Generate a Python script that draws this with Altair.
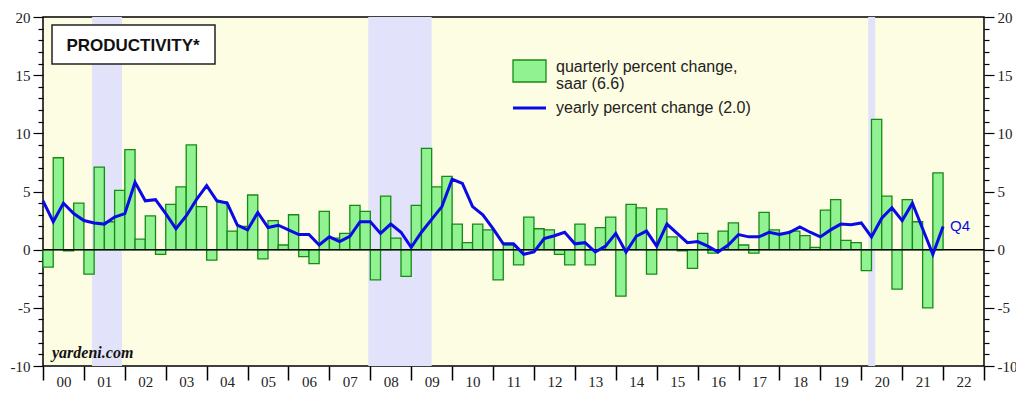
import altair as alt
import pandas as pd

# Quarterly percent change, saar (2000Q1 .. 2021Q4)
qtr_pct = [
    -1.5, 7.9, -0.1, 4.0,   # 2000
    -2.1, 7.1, 2.4, 5.1,    # 2001
    8.6, 0.9, 2.9, -0.4,    # 2002
    3.9, 5.4, 9.0, 3.7,     # 2003
    -0.9, 4.1, 1.6, 2.0,    # 2004
    4.7, -0.8, 2.5, 0.4,    # 2005
    3.0, -0.6, -1.2, 3.3,   # 2006
    1.0, 1.4, 3.8, 3.3,     # 2007
    -2.6, 4.6, 1.0, -2.3,   # 2008
    3.8, 8.7, 5.4, 6.3,     # 2009
    2.2, 0.6, 2.2, 1.7,     # 2010
    -2.6, 0.4, -1.3, 2.8,   # 2011
    1.8, 1.7, -0.4, -1.3,   # 2012
    2.2, -1.3, 1.9, 2.8,    # 2013
    -4.0, 3.9, 3.6, -2.1,   # 2014
    3.5, 1.1, -0.1, -1.6,   # 2015
    1.4, -0.3, 1.6, 2.3,    # 2016
    0.4, -0.3, 3.2, 1.7,    # 2017
    1.4, 1.6, 1.2, 0.2,     # 2018
    3.4, 4.3, 0.8, 0.6,     # 2019
    -1.8, 11.2, 4.6, -3.4,  # 2020
    4.3, 2.4, -5.0, 6.6,    # 2021
]

# Yearly percent change, plotted at quarter ends (1999Q4 .. 2021Q4)
yoy_pct = [
    4.2,
    2.4, 4.0, 3.1, 2.5,     # 2000
    2.3, 2.2, 2.8, 3.1,     # 2001
    5.8, 4.2, 4.3, 3.1,     # 2002
    1.8, 2.9, 4.3, 5.5,     # 2003
    4.2, 4.0, 2.1, 1.7,     # 2004
    3.2, 1.9, 2.1, 1.7,     # 2005
    1.3, 1.3, 0.4, 1.1,     # 2006
    0.7, 1.15, 2.4, 2.4,    # 2007
    1.4, 2.2, 1.5, 0.2,     # 2008
    1.5, 2.6, 3.7, 6.05,    # 2009
    5.7, 3.7, 3.0, 1.8,     # 2010
    0.5, 0.5, -0.4, -0.2,   # 2011
    0.95, 1.2, 1.5, 0.5,    # 2012
    0.6, -0.2, 0.3, 1.4,    # 2013
    -0.2, 1.15, 1.6, 0.3,   # 2014
    2.2, 1.4, 0.6, 0.7,     # 2015
    0.3, -0.2, 0.4, 1.3,    # 2016
    1.1, 1.1, 1.5, 1.3,     # 2017
    1.5, 1.95, 1.5, 1.1,    # 2018
    1.7, 2.2, 2.15, 2.3,    # 2019
    1.1, 2.7, 3.6, 2.5,     # 2020
    4.0, 1.8, -0.4, 2.0,    # 2021
]

recession_start = [2001.2, 2007.95, 2020.17]
recession_end = [2001.93, 2009.5, 2020.34]

year_labels = ["00", "01", "02", "03", "04", "05", "06", "07", "08", "09", "10",
               "11", "12", "13", "14", "15", "16", "17", "18", "19", "20", "21", "22"]
y_ticks = list(range(-10, 21))

title_text = "PRODUCTIVITY*"
legend_bar_lines = ["quarterly percent change,", "saar (6.6)"]
legend_line_text = "yearly percent change (2.0)"
last_label = "Q4"
source_text = "yardeni.com"

# ---- tables built from the arrays ----
df_q = pd.DataFrame({
    "x0": [2000 + i * 0.25 for i in range(len(qtr_pct))],
    "x1": [2000 + (i + 1) * 0.25 for i in range(len(qtr_pct))],
    "pct": qtr_pct,
})
df_y = pd.DataFrame({
    "x": [2000 + k * 0.25 for k in range(len(yoy_pct))],
    "yoy": yoy_pct,
})
df_last = df_y.tail(1).assign(label=last_label)
df_rec = pd.DataFrame({"start": recession_start, "end": recession_end})
one = pd.DataFrame({"a": [0]})

W, H = 941, 349
BG = "#FDFDE3"
BAND = "#E2E2FA"
BAR_FILL = "#90F290"
BAR_STROKE = "#168A16"
BLUE = "#0A0AE6"

xscale = alt.Scale(domain=[2000, 2023], nice=False, zero=False)
yscale = alt.Scale(domain=[-10, 20], nice=False, zero=False)

label_arr = "[" + ",".join("'" + s + "'" for s in year_labels) + "]"
x_axis = alt.Axis(
    values=[2000 + h * 0.5 for h in range(47)],
    title=None, domain=False, grid=False,
    labelExpr="datum.value % 1 === 0 ? '' : " + label_arr + "[floor(datum.value) - 2000]",
    labelFont="Liberation Serif", labelFontSize=15, labelColor="#222",
    labelPadding=-6, labelFlush=False, labelOverlap=False, labelAngle=0,
    tickColor="black", tickWidth=1.5, tickSize=14,
    tickOpacity={"condition": {"test": "datum.value % 1 === 0", "value": 1}, "value": 0},
)


def y_axis(orient):
    return alt.Axis(
        orient=orient, values=y_ticks, title=None, domain=False, grid=False,
        labelExpr="datum.value % 5 === 0 ? toString(datum.value) : ''",
        labelFont="Liberation Serif", labelFontSize=15, labelColor="#222",
        labelPadding=3, labelFlush=False, labelOverlap=False,
        tickColor="black", tickWidth=1.2,
        tickSize={"condition": {"test": "datum.value % 5 === 0", "value": 10}, "value": 5},
    )


recession = alt.Chart(df_rec).mark_rect(color=BAND).encode(
    x=alt.X("start:Q", scale=xscale, axis=x_axis),
    x2="end:Q",
)

bars = alt.Chart(df_q).mark_rect(fill=BAR_FILL, stroke=BAR_STROKE, strokeWidth=1.3).encode(
    x=alt.X("x0:Q", scale=xscale, axis=x_axis),
    x2="x1:Q",
    y=alt.Y("pct:Q", scale=yscale, axis=y_axis("left")),
    y2=alt.datum(0),
)

zero = alt.Chart(one).mark_rule(color="black", strokeWidth=1.5).encode(
    y=alt.YDatum(0, scale=yscale, axis=y_axis("right")),
)

line = alt.Chart(df_y).mark_line(color=BLUE, strokeWidth=3).encode(
    x=alt.X("x:Q", scale=xscale, axis=x_axis),
    y=alt.Y("yoy:Q", scale=yscale, axis=None),
)

q4 = alt.Chart(df_last).mark_text(
    align="left", baseline="middle", dx=7, color=BLUE, fontSize=15, font="Liberation Sans"
).encode(
    x=alt.X("x:Q", scale=xscale, axis=x_axis),
    y=alt.Y("yoy:Q", scale=yscale, axis=None),
    text="label:N",
)

title_box = alt.Chart(one).mark_rect(fill="white", stroke="#222", strokeWidth=1.5).encode(
    x=alt.value(9), x2=alt.value(172), y=alt.value(8), y2=alt.value(47),
)
title = alt.Chart(one).mark_text(
    fontSize=17, fontWeight="bold", font="Liberation Sans", color="#111",
    align="center", baseline="middle",
).encode(x=alt.value(90), y=alt.value(29), text=alt.value(title_text))

leg_swatch = alt.Chart(one).mark_rect(fill=BAR_FILL, stroke=BAR_STROKE, strokeWidth=1.3).encode(
    x=alt.value(470), x2=alt.value(503), y=alt.value(43), y2=alt.value(65),
)
leg_text1 = alt.Chart(one).mark_text(
    fontSize=16, font="Liberation Sans", color="#222", align="left", baseline="middle",
).encode(x=alt.value(513), y=alt.value(50), text=alt.value(legend_bar_lines[0]))
leg_text2 = alt.Chart(one).mark_text(
    fontSize=16, font="Liberation Sans", color="#222", align="left", baseline="middle",
).encode(x=alt.value(513), y=alt.value(67), text=alt.value(legend_bar_lines[1]))
leg_line = alt.Chart(one).mark_rule(color=BLUE, strokeWidth=3).encode(
    x=alt.value(470), x2=alt.value(503), y=alt.value(91),
)
leg_text3 = alt.Chart(one).mark_text(
    fontSize=16, font="Liberation Sans", color="#222", align="left", baseline="middle",
).encode(x=alt.value(513), y=alt.value(91), text=alt.value(legend_line_text))

source = alt.Chart(one).mark_text(
    fontSize=16, font="Liberation Serif", fontStyle="italic", fontWeight="bold",
    color="#111", align="left", baseline="middle",
).encode(x=alt.value(9), y=alt.value(336), text=alt.value(source_text))

chart = alt.layer(
    recession, bars, zero, line, q4,
    title_box, title, leg_swatch, leg_text1, leg_text2, leg_line, leg_text3, source,
).resolve_axis(
    y="independent"
).properties(
    width=W, height=H,
    autosize=alt.AutoSizeParams(type="none"),
    padding={"left": 35, "top": 9, "right": 32, "bottom": 25},
    background="white",
).configure_view(
    fill=BG, stroke="black", strokeWidth=1.5,
)

chart.save("out.html", embed_options={"renderer": "svg", "actions": False})
